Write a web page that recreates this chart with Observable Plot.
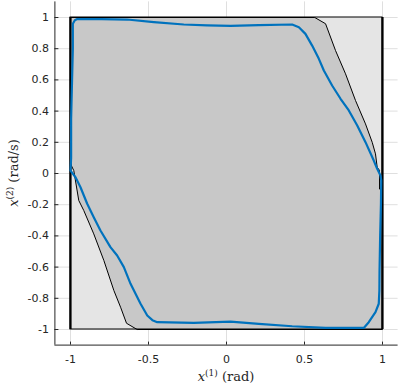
<!DOCTYPE html>
<html>
<head>
<meta charset="utf-8">
<script src="https://cdn.jsdelivr.net/npm/d3@7"></script>
<script src="https://cdn.jsdelivr.net/npm/@observablehq/plot@0.6"></script>
<style>
  html, body { margin: 0; padding: 0; background: #fff; }
  #chart svg { display: block; }
</style>
</head>
<body>
<div id="chart"></div>
<script>
// ---- data ----
const xTicks = [-1, -0.5, 0, 0.5, 1];
const yTicks = [-1, -0.8, -0.6, -0.4, -0.2, 0, 0.2, 0.4, 0.6, 0.8, 1];
const boxLo = -1, boxHi = 1;

// darker polygon (closed)
const polyX = [-1, 0.566, 0.635, 0.699, 0.763, 0.827, 0.891, 0.934, 0.955, 0.966, 0.981, 0.981, 1,
               1, -0.573, -0.641, -0.679, -0.722, -0.786, -0.851, -0.915, -0.947, -0.979, -1, -1];
const polyY = [1, 1, 0.96, 0.788, 0.639, 0.468, 0.318, 0.2, 0.126, 0.04, 0.02, -0.1, -0.115,
               -1, -1, -0.96, -0.857, -0.75, -0.558, -0.387, -0.237, -0.173, 0.019, 0.062, 1];

// blue closed trajectory
const curveX = [-0.985, -0.972, -0.957, -0.8, -0.637, -0.466, -0.274, -0.124, 0.026, 0.207, 0.421, 0.464,
                0.506, 0.549, 0.592, 0.624, 0.677, 0.731, 0.784, 0.838, 0.891, 0.944, 0.966, 0.987,
                0.992, 0.99, 0.985, 0.981, 0.98, 0.976, 0.955, 0.912, 0.88, 0.75, 0.635, 0.421, 0.207,
                0.026, -0.21, -0.444, -0.475, -0.508, -0.551, -0.615, -0.658, -0.701, -0.744, -0.808,
                -0.851, -0.893, -0.936, -0.968, -1, -0.996, -0.996, -0.99, -0.985, -0.985];
const curveY = [0.96, 0.982, 0.99, 0.99, 0.987, 0.97, 0.955, 0.949, 0.946, 0.951, 0.955, 0.938,
                0.895, 0.82, 0.735, 0.66, 0.564, 0.479, 0.404, 0.308, 0.201, 0.083, 0.03, -0.013,
                -0.045, -0.194, -0.4, -0.622, -0.75, -0.835, -0.889, -0.953, -0.99, -0.99, -0.989, -0.979, -0.964,
                -0.949, -0.957, -0.953, -0.94, -0.91, -0.835, -0.707, -0.6, -0.526, -0.472, -0.365,
                -0.28, -0.194, -0.088, -0.024, 0.019, 0.1, 0.35, 0.6, 0.8, 0.96];

const poly = polyX.map((x, i) => ({x, y: polyY[i]}));
const curve = curveX.map((x, i) => ({x, y: curveY[i]}));
const box = [{x1: boxLo, x2: boxHi, y1: boxLo, y2: boxHi}];

const ink = "#262626";
const plot = Plot.plot({
  width: 399,
  height: 391,
  marginLeft: 54.4,
  marginRight: 1.4,
  marginTop: 1.4,
  marginBottom: 46.4,
  x: {domain: [-1.1, 1.1]},
  y: {domain: [-1.1, 1.1]},
  style: {fontFamily: "DejaVu Sans", fontSize: "11px", color: ink, background: "#fff", overflow: "visible"},
  marks: [
    Plot.gridX(xTicks, {stroke: "#dfdfdf", strokeOpacity: 1}),
    Plot.gridY(yTicks, {stroke: "#dfdfdf", strokeOpacity: 1}),
    Plot.rect(box, {x1: "x1", x2: "x2", y1: "y1", y2: "y2", fill: "#e5e5e5"}),
    Plot.line(poly, {x: "x", y: "y", fill: "#c8c8c8", stroke: "#000", strokeWidth: 1, curve: "linear"}),
    Plot.rect(box, {x1: "x1", x2: "x2", y1: "y1", y2: "y2", fill: "none", stroke: "#000", strokeWidth: 1}),
    Plot.ruleX([boxLo, boxHi], {y1: boxLo, y2: boxHi, stroke: "#000", strokeWidth: 2.2}),
    Plot.line(curve, {x: "x", y: "y", stroke: "#0072BD", strokeWidth: 2.2, strokeLinejoin: "round"}),
    Plot.ruleX([-1.1], {stroke: ink, strokeWidth: 1}),
    Plot.ruleY([-1.1], {stroke: ink, strokeWidth: 1}),
    Plot.axisX(xTicks, {tickSize: -3, tickPadding: 13, tickFormat: d => String(d), label: null, stroke: ink}),
    Plot.axisY(yTicks, {tickSize: -4, tickPadding: 10, tickFormat: d => String(d), label: null, stroke: ink})
  ]
});
document.getElementById("chart").appendChild(plot);

// axis titles with superscripts
const svg = d3.select(plot);
const sx = plot.scale("x"), sy = plot.scale("y");
function label(g, sup, unit) {
  const t = g.append("text")
    .attr("text-anchor", "middle")
    .attr("font-family", "DejaVu Serif")
    .attr("font-size", 13)
    .attr("fill", ink);
  t.append("tspan").attr("font-style", "italic").text("x");
  t.append("tspan").attr("font-size", 9).attr("dy", -5).text(sup);
  t.append("tspan").attr("dy", 5).text(" " + unit);
  return t;
}
label(svg.append("g").attr("transform", `translate(${sx.apply(0)},381)`), "(1)", "(rad)");
label(svg.append("g").attr("transform", `translate(18,${sy.apply(0)}) rotate(-90)`), "(2)", "(rad/s)");
</script>
</body>
</html>
